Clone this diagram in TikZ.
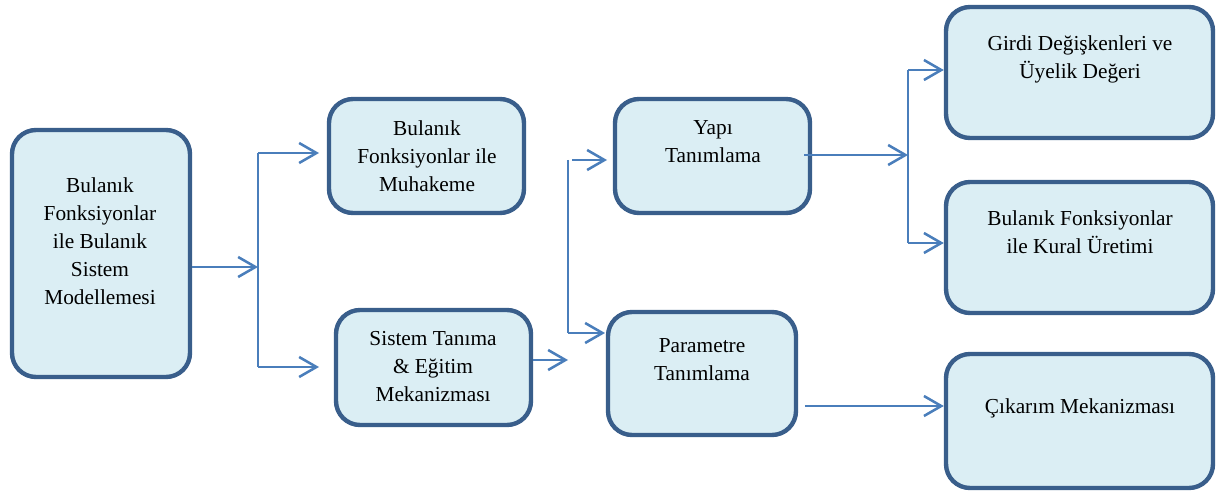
\documentclass[tikz,border=0pt]{standalone}
\usepackage{fontspec}
\setmainfont{Liberation Serif}
\usetikzlibrary{arrows.meta,fit}
\definecolor{fuzzyModelFill}{RGB}{219,238,244}
\definecolor{fuzzyModelDraw}{RGB}{57,94,139}
\definecolor{fuzzyModelArrowColor}{RGB}{74,126,187}
\tikzset{fuzzyModelBox/.style={
    fill=fuzzyModelFill,
    draw=fuzzyModelDraw,
    line width=3.3pt,
    rounded corners=18pt,
    inner sep=0pt,
  }
}
\tikzset{fuzzyModelText/.style={
    font=\fontsize{16}{21}\selectfont,
    align=center,
  }
}
\tikzset{fuzzyModelLine/.style={
    line width=1.9pt,
    fuzzyModelArrowColor,
  }
}
\tikzset{fuzzyModelArrow/.style={
    fuzzyModelLine,
    -{Straight Barb[length=13pt,width=15pt,line width=1.9pt]},
  }
}

\begin{document}
\begin{tikzpicture}[x=0.75pt, y=-0.75pt]
  \useasboundingbox (0,0) rectangle (1219,495);

  % boxes
  \node [fuzzyModelBox, fit={(12,130) (190,377)}] (b1) {};
  \node [fuzzyModelBox, fit={(329,99) (524,213)}] (b2) {};
  \node [fuzzyModelBox, fit={(336,310) (531,425)}] (b3) {};
  \node [fuzzyModelBox, fit={(615,99) (810,213)}] (b4) {};
  \node [fuzzyModelBox, fit={(608,312) (796,435)}] (b5) {};
  \node [fuzzyModelBox, fit={(946,7) (1213,138)}] (b6) {};
  \node [fuzzyModelBox, fit={(946,182) (1213,313)}] (b7) {};
  \node [fuzzyModelBox, fit={(946,354) (1213,488)}] (b8) {};

  % texts
  \node [fuzzyModelText] (b1text) at (100,241)
  {Bulanık\\Fonksiyonlar\\ile Bulanık\\Sistem\\Modellemesi};
  \node [fuzzyModelText] (b2text) at (427,156)
  {Bulanık\\Fonksiyonlar ile\\Muhakeme};
  \node [fuzzyModelText] (b3text) at (433,367)
  {Sistem Tanıma\\\& Eğitim\\Mekanizması};
  \node [fuzzyModelText] (b4text) at (713,142) {Yapı\\Tanımlama};
  \node [fuzzyModelText] (b5text) at (702,360) {Parametre\\Tanımlama};
  \node [fuzzyModelText] (b6text) at (1080,59)
  {Girdi Değişkenleri ve\\Üyelik Değeri};
  \node [fuzzyModelText] (b7text) at (1080,232)
  {Bulanık Fonksiyonlar\\ile Kural Üretimi};
  \node [fuzzyModelText] (b8text) at (1080,408) {Çıkarım Mekanizması};

  % split points and arrow tips
  \coordinate (s1) at (258,267);
  \coordinate (s1a) at (258,153);
  \coordinate (s1b) at (258,367);
  \coordinate (t2) at (319,153);
  \coordinate (t3) at (319,367);
  \coordinate (s2) at (568,360);
  \coordinate (s2a) at (568,160);
  \coordinate (s2b) at (568,333);
  \coordinate (t4) at (607,160);
  \coordinate (t5) at (605,333);
  \coordinate (s3) at (908,155);
  \coordinate (s3a) at (908,70);
  \coordinate (s3b) at (908,243);

  % connectors
  \draw[fuzzyModelArrow] (b1.east |- s1) to (s1);
  \draw[fuzzyModelLine] (s1a) to (s1b);
  \draw[fuzzyModelArrow] (s1a) to (t2);
  \draw[fuzzyModelArrow] (s1b) to (t3);

  \draw[fuzzyModelArrow] (b3.east |- s2) to (s2);
  \draw[fuzzyModelLine] (s2a) to (s2b);
  \draw[fuzzyModelArrow] ([xshift=3pt]s2a) to (t4);
  \draw[fuzzyModelArrow] (s2b) to (t5);

  \draw[fuzzyModelArrow] ([xshift=-6pt]b4.east |- s3) to (s3);
  \draw[fuzzyModelLine] (s3a) to (s3b);
  \draw[fuzzyModelArrow] (s3a) to (b6.west |- s3a);
  \draw[fuzzyModelArrow] (s3b) to (b7.west |- s3b);

  \draw[fuzzyModelArrow] ([xshift=5pt]b5.east |- 0,406) to (b8.west |- 0,406);
\end{tikzpicture}
\end{document}
